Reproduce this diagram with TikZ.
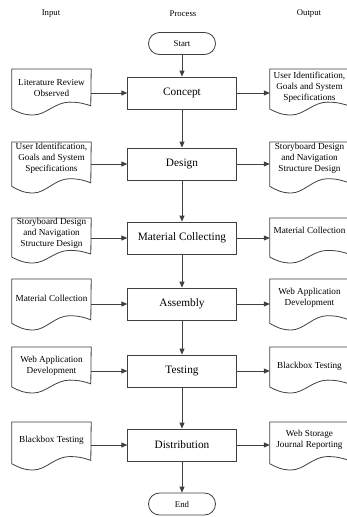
\documentclass[tikz,border=0pt]{standalone}
\usepackage{fontspec}
\setmainfont{Liberation Serif}
\usetikzlibrary{arrows.meta,calc}
\tikzset{
  ln/.style={draw=black!75, line width=0.8pt},
  arr/.style={ln, -{Triangle[length=6pt,width=5pt]}},
  proc/.style={ln, rectangle, minimum width=108.5pt, minimum height=32pt, inner sep=0pt, font=\fontsize{11.3}{13}\selectfont},
  term/.style={ln, rectangle, rounded corners=11pt, minimum width=67pt, minimum height=22pt, inner sep=0pt, font=\fontsize{8.8}{10}\selectfont},
  docbody/.style={rectangle, anchor=north, minimum width=79pt, inner sep=0pt, align=center, font=\fontsize{9.2}{11}\selectfont},
  hdr/.style={font=\fontsize{8.7}{10}\selectfont}
}
\newcommand\docshape[2]{%
  \draw[ln] (#1.north west) -- (#1.north east) -- ($(#1.north west)+(79,0.8*#2)$)
   .. controls ($(#1.north west)+(0.93*79,0.76*#2)$) and ($(#1.north west)+(0.86*79,0.72*#2)$) .. ($(#1.north west)+(0.73*79,0.72*#2)$)
   .. controls ($(#1.north west)+(0.55*79,0.72*#2)$) and ($(#1.north west)+(0.43*79,#2)$) .. ($(#1.north west)+(0.27*79,#2)$)
   .. controls ($(#1.north west)+(0.15*79,#2)$) and ($(#1.north west)+(0.08*79,0.94*#2)$) .. ($(#1.north west)+(0,0.87*#2)$)
   -- cycle;}
\begin{document}
\begin{tikzpicture}[x=1pt,y=-1pt]
\clip (0,0) rectangle (347,517);
\fill[white] (0,0) rectangle (347,517);

% headers
\node[hdr] (hin) at (51,14) {Input};
\node[hdr] (hpr) at (183,14) {Process};
\node[hdr] (hout) at (309,14) {Output};

% process column
\node[term] (start) at (182,43.5) {Start};
\node[proc] (c1) at (182,93) {Concept};
\node[proc] (c2) at (182,164) {Design};
\node[proc] (c3) at (182,238) {Material Collecting};
\node[proc] (c4) at (182,304) {Assembly};
\node[proc] (c5) at (182,371) {Testing};
\node[proc] (c6) at (182,445) {Distribution};
\node[term] (end) at (182,504) {End};

% input documents
\node[docbody, minimum height=37pt] (i1) at (51.5,69) {Literature Review\\Observed};
\node[docbody, minimum height=32pt] (i2) at (51.5,142) {User Identification,\\Goals and System\\Specifications};
\node[docbody, minimum height=24pt] (i3) at (51.5,218) {Storyboard Design\\and Navigation\\Structure Design};
\node[docbody, minimum height=38pt] (i4) at (51.5,279) {Material Collection};
\node[docbody, minimum height=37pt] (i5) at (51.5,347) {Web Application\\Development};
\node[docbody, minimum height=36pt] (i6) at (51.5,422) {Blackbox Testing};

% output documents
\node[docbody, minimum height=37pt] (o1) at (309.5,69) {User Identification,\\Goals and System\\Specifications};
\node[docbody, minimum height=32pt] (o2) at (309.5,142) {Storyboard Design\\and Navigation\\Structure Design};
\node[docbody, minimum height=24pt] (o3) at (309.5,218) {Material Collection};
\node[docbody, minimum height=38pt] (o4) at (309.5,279) {Web Application\\Development};
\node[docbody, minimum height=38pt] (o5) at (309.5,347) {Blackbox Testing};
\node[docbody, minimum height=35pt] (o6) at (309.5,422) {Web Storage\\Journal Reporting};

\docshape{i1}{46}
\docshape{i2}{51}
\docshape{i3}{45}
\docshape{i4}{51}
\docshape{i5}{46}
\docshape{i6}{48}
\docshape{o1}{46}
\docshape{o2}{51}
\docshape{o3}{45}
\docshape{o4}{51}
\docshape{o5}{46}
\docshape{o6}{48}

% vertical flow
\draw[arr] (start) -- (c1);
\draw[arr] (c1) -- (c2);
\draw[arr] (c2) -- (c3);
\draw[arr] (c3) -- (c4);
\draw[arr] (c4) -- (c5);
\draw[arr] (c5) -- (c6);
\draw[arr] (c6) -- (end);

% inputs and outputs
\foreach \k in {1,...,6}{
  \draw[arr] (i\k.east |- c\k.west) -- (c\k.west);
  \draw[arr] (c\k.east) -- (o\k.west |- c\k.east);
}
\end{tikzpicture}
\end{document}
